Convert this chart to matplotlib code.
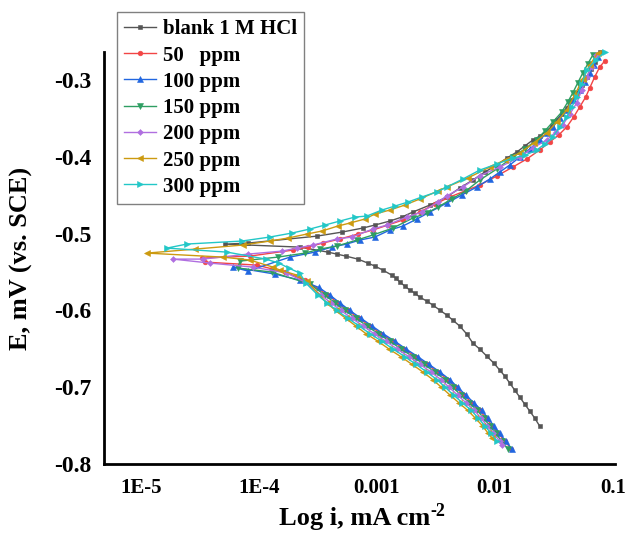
import matplotlib
matplotlib.use("Agg")
import matplotlib.pyplot as plt
import numpy as np
from matplotlib.ticker import NullLocator

# Tafel data: E (V vs SCE) and log10 i (mA cm-2)
blank_E = [-0.7505, -0.7401, -0.731, -0.7219, -0.7128, -0.7036, -0.6945, -0.6854, -0.6776, -0.6685,
           -0.6594, -0.6503, -0.6425, -0.6307, -0.6203, -0.6125, -0.606, -0.5995, -0.593, -0.5878,
           -0.5826, -0.5774, -0.5735, -0.5682, -0.563, -0.5578, -0.554, -0.5474, -0.5422, -0.5383,
           -0.5331, -0.5292, -0.5266, -0.524, -0.5175, -0.5136,
           -0.5123, -0.5032, -0.498, -0.4927, -0.4888, -0.4836, -0.4784, -0.4719, -0.4628, -0.4524,
           -0.4406, -0.4302, -0.4198, -0.4107, -0.4016, -0.3938, -0.386, -0.3782, -0.373, -0.3664,
           -0.36, -0.352, -0.344, -0.3365, -0.326, -0.317, -0.3066, -0.296, -0.2857, -0.2766, -0.2636]
blank_logi = [-1.619, -1.661, -1.703, -1.746, -1.788, -1.831, -1.873, -1.915, -1.958, -2.008,
              -2.068, -2.127, -2.186, -2.237, -2.297, -2.356, -2.407, -2.466, -2.525, -2.576,
              -2.636, -2.678, -2.720, -2.763, -2.805, -2.839, -2.873, -2.949, -3.017, -3.076,
              -3.161, -3.263, -3.339, -3.415, -3.653, -4.288,
              -4.093, -3.508, -3.297, -3.119, -3.017, -2.890, -2.788, -2.695, -2.551, -2.407,
              -2.297, -2.186, -2.085, -1.983, -1.898, -1.814, -1.746, -1.678, -1.619, -1.559,
              -1.517, -1.475, -1.432, -1.390, -1.347, -1.305, -1.263, -1.220, -1.186, -1.153, -1.110]

ppm50_E = [-0.78, -0.77, -0.76, -0.75, -0.74, -0.73, -0.72, -0.71, -0.70, -0.69, -0.68, -0.67, -0.66,
           -0.65, -0.64, -0.63, -0.62, -0.61, -0.60, -0.59, -0.58,
           -0.5604, -0.55, -0.5409, -0.5370, -0.5318,
           -0.5292, -0.5214, -0.5174, -0.5122, -0.5070, -0.5005, -0.4953, -0.4888, -0.4823, -0.4719,
           -0.4615, -0.4523, -0.4445, -0.4367, -0.4250, -0.4133, -0.4029, -0.3911, -0.3807, -0.3716,
           -0.3612, -0.3482, -0.3352, -0.3221, -0.3104, -0.2961, -0.2831, -0.2753]
ppm50_logi = [-1.860, -1.915, -1.970, -2.022, -2.075, -2.128, -2.196, -2.264, -2.331, -2.398, -2.483,
              -2.576, -2.670, -2.771, -2.864, -2.966, -3.059, -3.153, -3.246, -3.331, -3.415,
              -3.610, -3.780, -4.017, -4.458, -4.483,
              -4.076, -3.712, -3.585, -3.458, -3.314, -3.161, -3.034, -2.907, -2.780, -2.636,
              -2.508, -2.381, -2.254, -2.127, -1.983, -1.847, -1.729, -1.619, -1.534, -1.458,
              -1.390, -1.331, -1.280, -1.229, -1.195, -1.153, -1.110, -1.068]

ppm100_E = [-0.78, -0.77, -0.76, -0.75, -0.74, -0.73, -0.72, -0.71, -0.70, -0.69, -0.68, -0.67, -0.66,
            -0.65, -0.64, -0.63, -0.62, -0.61, -0.60, -0.59, -0.58, -0.57,
            -0.5604, -0.5526, -0.5435, -0.5487,
            -0.5305, -0.5240, -0.5174, -0.5135, -0.5083, -0.5044, -0.4953, -0.4901, -0.4810, -0.4719,
            -0.4602, -0.4497, -0.4393, -0.4289, -0.4198, -0.4107, -0.4003, -0.3898, -0.3781, -0.3690,
            -0.3612, -0.3495, -0.3391, -0.3260, -0.3130, -0.3026, -0.2909, -0.2805, -0.2700]
ppm100_logi = [-1.856, -1.907, -1.958, -2.008, -2.059, -2.110, -2.178, -2.246, -2.314, -2.381, -2.466,
               -2.559, -2.653, -2.754, -2.847, -2.949, -3.042, -3.136, -3.229, -3.314, -3.398, -3.492,
               -3.653, -3.864, -4.220, -4.093,
               -3.737, -3.525, -3.381, -3.254, -3.144, -3.017, -2.890, -2.780, -2.661, -2.551,
               -2.407, -2.280, -2.153, -2.042, -1.958, -1.873, -1.788, -1.703, -1.619, -1.559,
               -1.508, -1.449, -1.390, -1.331, -1.280, -1.237, -1.195, -1.161, -1.127]

ppm150_E = [-0.78, -0.77, -0.76, -0.75, -0.74, -0.73, -0.72, -0.71, -0.70, -0.69, -0.68, -0.67, -0.66,
            -0.65, -0.64, -0.63, -0.62, -0.61, -0.60, -0.59, -0.58,
            -0.5656, -0.55, -0.5448, -0.5357,
            -0.5305, -0.5253, -0.5201, -0.5161, -0.5083, -0.5018, -0.4927, -0.4797, -0.4732, -0.4654,
            -0.4549, -0.4445, -0.4302, -0.4159, -0.4003, -0.3898, -0.3781, -0.3664, -0.3547, -0.3417,
            -0.3286, -0.3169, -0.3039, -0.2909, -0.2792, -0.2675]
ppm150_logi = [-1.890, -1.941, -1.992, -2.043, -2.095, -2.148, -2.218, -2.287, -2.356, -2.423, -2.508,
               -2.601, -2.695, -2.796, -2.889, -2.991, -3.084, -3.178, -3.271, -3.356, -3.440,
               -3.568, -3.890, -4.178, -4.161,
               -3.839, -3.610, -3.483, -3.339, -3.169, -3.034, -2.864, -2.695, -2.576, -2.483,
               -2.364, -2.246, -2.127, -1.983, -1.847, -1.746, -1.644, -1.576, -1.508, -1.432,
               -1.381, -1.339, -1.297, -1.254, -1.212, -1.169]

ppm200_E = [-0.775, -0.77, -0.76, -0.75, -0.74, -0.73, -0.72, -0.71, -0.70, -0.69, -0.68, -0.67, -0.66,
            -0.65, -0.64, -0.63, -0.62, -0.61, -0.60, -0.59, -0.58,
            -0.5630, -0.5513, -0.5435, -0.5383, -0.5331,
            -0.5331, -0.5266, -0.5227, -0.5188, -0.5148, -0.5070, -0.5044, -0.4940, -0.4888, -0.4784,
            -0.4719, -0.4589, -0.4510, -0.4393, -0.4245, -0.4133, -0.4003, -0.3885, -0.3781, -0.3677,
            -0.3586, -0.3443, -0.3299, -0.3130, -0.2961, -0.2831, -0.2675]
ppm200_logi = [-1.941, -1.958, -2.012, -2.064, -2.118, -2.173, -2.245, -2.316, -2.387, -2.456, -2.542,
               -2.635, -2.729, -2.830, -2.923, -3.025, -3.118, -3.212, -3.305, -3.390, -3.474,
               -3.610, -3.763, -4.051, -4.415, -4.729,
               -4.475, -4.093, -3.805, -3.678, -3.542, -3.339, -3.212, -3.034, -2.915, -2.746,
               -2.619, -2.483, -2.407, -2.271, -2.127, -1.958, -1.788, -1.678, -1.559, -1.483,
               -1.424, -1.364, -1.305, -1.263, -1.220, -1.178, -1.144]

ppm250_E = [-0.766, -0.76, -0.75, -0.74, -0.73, -0.72, -0.71, -0.70, -0.69, -0.68, -0.67, -0.66,
            -0.65, -0.64, -0.63, -0.62, -0.61, -0.60, -0.59,
            -0.5617, -0.5539, -0.5474, -0.5435, -0.5344, -0.5305, -0.5253,
            -0.5201, -0.5148, -0.5096, -0.5057, -0.5005, -0.4966, -0.4901, -0.4862, -0.4810, -0.4745,
            -0.4693, -0.4628, -0.4549, -0.4445, -0.4393, -0.4276, -0.4133, -0.4042, -0.3951, -0.3820,
            -0.3690, -0.3547, -0.3391, -0.3195, -0.2987, -0.2805, -0.2649]
ppm250_logi = [-2.025, -2.055, -2.105, -2.165, -2.230, -2.305, -2.380, -2.452, -2.525, -2.610, -2.703,
               -2.797, -2.898, -2.991, -3.093, -3.180, -3.265, -3.350, -3.425,
               -3.593, -3.678, -3.822, -3.881, -4.076, -4.305, -4.949,
               -4.542, -4.136, -3.907, -3.754, -3.593, -3.466, -3.331, -3.229, -3.102, -3.017,
               -2.890, -2.763, -2.636, -2.483, -2.407, -2.229, -2.042, -1.915, -1.788, -1.669,
               -1.559, -1.475, -1.390, -1.322, -1.254, -1.195, -1.127]

ppm300_E = [-0.77, -0.76, -0.75, -0.74, -0.73, -0.72, -0.71, -0.70, -0.69, -0.68, -0.67, -0.66,
            -0.65, -0.64, -0.63, -0.62, -0.61, -0.60, -0.59, -0.58,
            -0.5643, -0.5513, -0.5448, -0.5383, -0.5331, -0.5240, -0.5188,
            -0.5135, -0.5096, -0.5044, -0.4992, -0.4940, -0.4888, -0.4836, -0.4784, -0.4771, -0.4693,
            -0.4641, -0.4589, -0.4523, -0.4458, -0.4393, -0.4289, -0.4172, -0.4094, -0.4016, -0.3982,
            -0.3911, -0.3833, -0.3742, -0.3612, -0.3482, -0.3352, -0.3221, -0.3052, -0.2870, -0.2740,
            -0.2636]
ppm300_logi = [-1.983, -2.030, -2.085, -2.140, -2.200, -2.275, -2.350, -2.420, -2.490, -2.576, -2.669,
               -2.763, -2.864, -2.957, -3.059, -3.152, -3.246, -3.339, -3.424, -3.500,
               -3.602, -3.653, -3.747, -3.831, -3.941, -4.271, -4.780,
               -4.610, -4.144, -3.907, -3.720, -3.568, -3.441, -3.314, -3.186, -3.085, -2.958,
               -2.847, -2.737, -2.619, -2.492, -2.407, -2.271, -2.127, -1.983, -1.847, -1.746,
               -1.644, -1.576, -1.508, -1.449, -1.390, -1.347, -1.305, -1.263, -1.220, -1.144,
               -1.068]

series_labels = ["blank 1 M HCl", "50   ppm", "100 ppm", "150 ppm", "200 ppm", "250 ppm", "300 ppm"]
series_E = [blank_E, ppm50_E, ppm100_E, ppm150_E, ppm200_E, ppm250_E, ppm300_E]
series_logi = [blank_logi, ppm50_logi, ppm100_logi, ppm150_logi, ppm200_logi, ppm250_logi, ppm300_logi]
colors = ["#555555", "#f24545", "#2166e0", "#2e9e62", "#b06fe0", "#cc9a10", "#22c7c7"]
markers = ["s", "o", "^", "v", "D", "<", ">"]
msizes = [3.2, 3.4, 3.8, 3.8, 3.0, 3.8, 3.8]

xticks_val = [1e-5, 1e-4, 1e-3, 1e-2, 1e-1]
xticks_lab = ["1E-5", "1E-4", "0.001", "0.01", "0.1"]
yticks_val = [-0.8, -0.7, -0.6, -0.5, -0.4, -0.3]
yticks_lab = ["-0.8", "-0.7", "-0.6", "-0.5", "-0.4", "-0.3"]

plt.rcParams["font.family"] = ["Liberation Serif", "DejaVu Serif"]
plt.rcParams["font.weight"] = "bold"

fig = plt.figure(figsize=(6.26, 5.41), dpi=100)
ax = fig.add_axes([0.166, 0.142, 0.816, 0.762])

for E, logi, lab, c, m, ms in zip(series_E, series_logi, series_labels, colors, markers, msizes):
    ax.plot(10 ** np.array(logi), E, color=c, marker=m, markersize=ms, linewidth=1.0,
            markeredgewidth=0.4, label=lab, clip_on=False)

ax.set_xscale("log")
ax.set_xlim(10 ** -5.314, 10 ** -0.983)
ax.set_ylim(-0.8, -0.2635)
ax.set_xticks(xticks_val)
ax.set_xticklabels(xticks_lab)
ax.xaxis.set_minor_locator(NullLocator())
ax.set_yticks(yticks_val)
ax.set_yticklabels(yticks_lab)

for s in ["top", "right"]:
    ax.spines[s].set_visible(False)
for s in ["left", "bottom"]:
    ax.spines[s].set_linewidth(2.0)

ax.tick_params(axis="x", length=0, pad=10, labelsize=15)
ax.tick_params(axis="y", length=0, pad=9, labelsize=17)
for t in ax.get_xticklabels() + ax.get_yticklabels():
    t.set_fontweight("bold")

# x label with a plain hyphen superscript, as in the original
xlab = ax.set_xlabel("Log i, mA cm", fontsize=19, fontweight="bold")
ax.xaxis.set_label_coords(0.49, -0.105)
ax.annotate("-2", xy=(1.0, 1.0), xycoords=xlab, xytext=(0.5, 3.5),
            textcoords="offset points", ha="left", va="top",
            fontsize=13, fontweight="bold")

ax.set_ylabel("E, mV (vs. SCE)", fontsize=19, fontweight="bold")
ax.yaxis.set_label_coords(-0.139, 0.5)

leg = ax.legend(loc="upper left", bbox_to_anchor=(117 / 626, 1 - 12 / 541),
                bbox_transform=fig.transFigure, borderaxespad=0, fancybox=False,
                framealpha=1, edgecolor="#808080", labelspacing=0.3,
                handlelength=1.5, handletextpad=0.35, borderpad=0.35,
                prop={"weight": "bold", "size": 15})
leg.get_frame().set_linewidth(1.0)

fig.savefig("out.png", dpi=100)
